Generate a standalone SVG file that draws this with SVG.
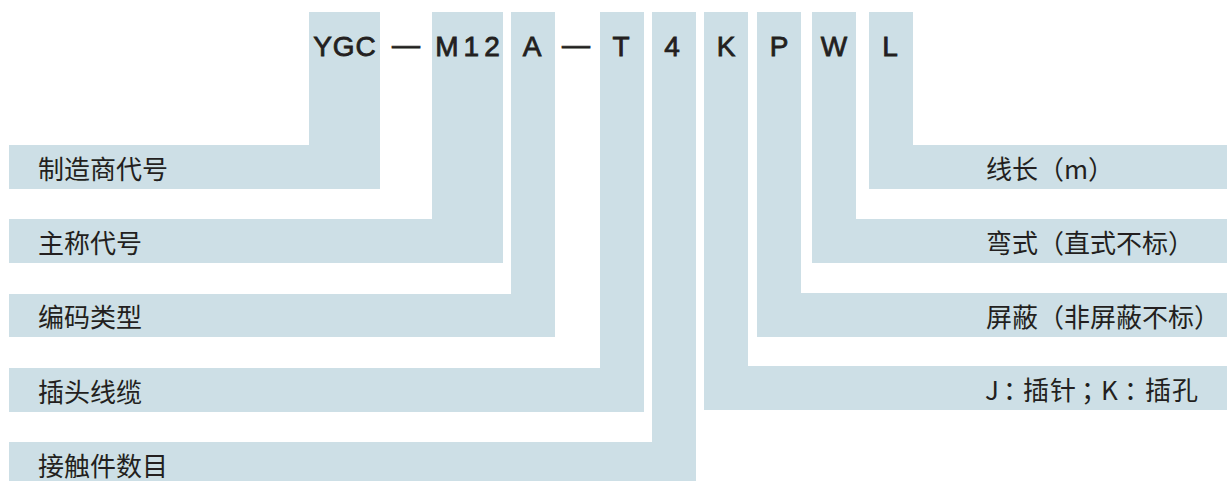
<svg xmlns="http://www.w3.org/2000/svg" width="1227" height="481" viewBox="0 0 1227 481">
<style>
.shape{fill:#cddfe6;stroke:none}
.code{font-family:"Liberation Sans",Arial,sans-serif;font-size:28px;fill:#231f20;stroke:#231f20;stroke-width:0.8px;text-anchor:middle}
.lbl{font-family:"Noto Sans CJK SC","Noto Sans",sans-serif;font-size:26px;fill:#231f20;dominant-baseline:central}
</style>
<rect width="1227" height="481" fill="#ffffff"/>
<g id="n1-maker">
<path class="shape" d="M309 12H380V189H9V145H309Z"/>
<text class="code" x="345" y="56" letter-spacing="1">YGC</text>
<text class="lbl" x="38" y="167">制造商代号</text>
</g>
<g id="n2-main">
<path class="shape" d="M432 12H503V263H9V219H432Z"/>
<text class="code" x="470" y="56" letter-spacing="5">M12</text>
<text class="lbl" x="38" y="241">主称代号</text>
</g>
<g id="n3-code">
<path class="shape" d="M511 12H555V337H9V294H511Z"/>
<text class="code" x="532" y="56">A</text>
<text class="lbl" x="38" y="315.5">编码类型</text>
</g>
<g id="n4-cable">
<path class="shape" d="M600 12H644V412H9V368H600Z"/>
<text class="code" x="621" y="56">T</text>
<text class="lbl" x="38" y="390">插头线缆</text>
</g>
<g id="n5-contacts">
<path class="shape" d="M652 12H696V481H9V442H652Z"/>
<text class="code" x="672" y="56">4</text>
<text class="lbl" x="38" y="464">接触件数目</text>
</g>
<g id="n6-pin">
<path class="shape" d="M704 12H748V366H1227V410H704Z"/>
<text class="code" x="726" y="56">K</text>
<text class="lbl" x="985 1003 1023 1050 1081 1101 1124 1145 1172" y="388">J：插针；K：插孔</text>
</g>
<g id="n7-shield">
<path class="shape" d="M757 12H801V293H1227V337H757Z"/>
<text class="code" x="779" y="56">P</text>
<text class="lbl" x="986" y="315">屏蔽（非屏蔽不标）</text>
</g>
<g id="n8-bend">
<path class="shape" d="M812 12H856V219H1227V263H812Z"/>
<text class="code" x="834" y="56">W</text>
<text class="lbl" x="986" y="241">弯式（直式不标）</text>
</g>
<g id="n9-length">
<path class="shape" d="M869 12H913V145H1227V189H869Z"/>
<text class="code" x="890" y="56">L</text>
<text class="lbl" x="986" y="167">线长（m）</text>
</g>
<g id="separators">
<text class="code" x="406" y="54" font-size="25">—</text>
<text class="code" x="576" y="54" font-size="25">—</text>
</g>
<g id="connectors"></g>
</svg>
